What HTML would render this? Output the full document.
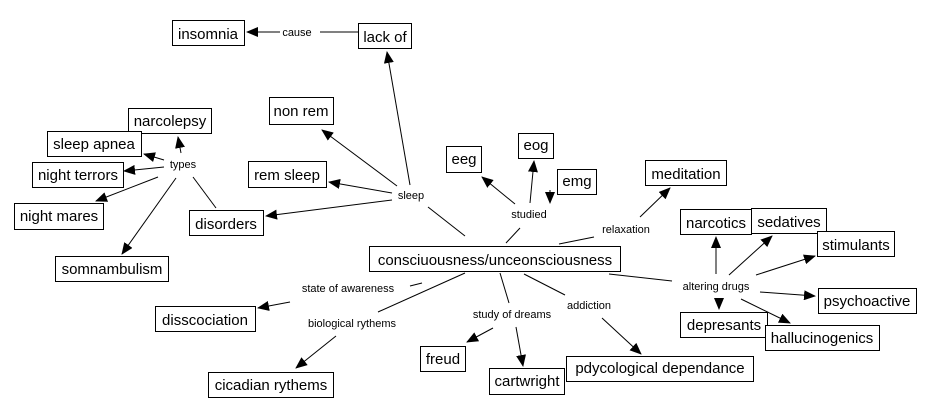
<!DOCTYPE html>
<html><head><meta charset="utf-8"><style>
html,body{margin:0;padding:0;background:#fff;}
svg{display:block;}
.b{fill:#fff;stroke:#000;stroke-width:1;}
.t{font-family:"Liberation Sans",sans-serif;font-size:15px;fill:#000;text-anchor:middle;}
.l{font-family:"Liberation Sans",sans-serif;font-size:11px;fill:#000;text-anchor:middle;}
line{stroke:#000;stroke-width:1;}
</style></head><body>
<svg width="930" height="417" viewBox="0 0 930 417" xmlns="http://www.w3.org/2000/svg">
<defs><marker id="a" markerWidth="12" markerHeight="10" refX="11" refY="5" orient="auto" markerUnits="userSpaceOnUse"><path d="M0,0 L12,5 L0,10 z" fill="#000"/></marker></defs>
<g>
<line x1="320" y1="32" x2="358" y2="32"/>
<line x1="280" y1="32" x2="247" y2="32" marker-end="url(#a)"/>
<line x1="410" y1="185" x2="387" y2="52" marker-end="url(#a)"/>
<line x1="397" y1="186" x2="322" y2="130" marker-end="url(#a)"/>
<line x1="392" y1="193" x2="329" y2="182" marker-end="url(#a)"/>
<line x1="392" y1="200" x2="266" y2="216" marker-end="url(#a)"/>
<line x1="465" y1="236" x2="428" y2="207"/>
<line x1="216" y1="208" x2="193" y2="177"/>
<line x1="181" y1="153" x2="178" y2="137" marker-end="url(#a)"/>
<line x1="164" y1="160" x2="144" y2="154" marker-end="url(#a)"/>
<line x1="164" y1="167" x2="124" y2="171" marker-end="url(#a)"/>
<line x1="158" y1="177" x2="96" y2="201" marker-end="url(#a)"/>
<line x1="176" y1="178" x2="122" y2="254" marker-end="url(#a)"/>
<line x1="506" y1="243" x2="520" y2="228"/>
<line x1="515" y1="204" x2="482" y2="177" marker-end="url(#a)"/>
<line x1="530" y1="203" x2="534" y2="161" marker-end="url(#a)"/>
<line x1="550" y1="190" x2="550" y2="203" marker-end="url(#a)" stroke="none"/>
<line x1="559" y1="244" x2="594" y2="237"/>
<line x1="640" y1="217" x2="670" y2="188" marker-end="url(#a)"/>
<line x1="609" y1="274" x2="672" y2="281"/>
<line x1="716" y1="274" x2="716" y2="237" marker-end="url(#a)"/>
<line x1="729" y1="275" x2="772" y2="236" marker-end="url(#a)"/>
<line x1="756" y1="275" x2="815" y2="256" marker-end="url(#a)"/>
<line x1="760" y1="292" x2="815" y2="296" marker-end="url(#a)"/>
<line x1="719" y1="298" x2="719" y2="309" marker-end="url(#a)" stroke="none"/>
<line x1="741" y1="299" x2="790" y2="323" marker-end="url(#a)"/>
<line x1="524" y1="274" x2="565" y2="295"/>
<line x1="602" y1="318" x2="641" y2="354" marker-end="url(#a)"/>
<line x1="500" y1="273" x2="509" y2="303"/>
<line x1="493" y1="328" x2="467" y2="342" marker-end="url(#a)"/>
<line x1="516" y1="327" x2="523" y2="366" marker-end="url(#a)"/>
<line x1="410" y1="286" x2="422" y2="283"/>
<line x1="290" y1="302" x2="258" y2="308" marker-end="url(#a)"/>
<line x1="465" y1="273" x2="378" y2="312"/>
<line x1="336" y1="336" x2="296" y2="368" marker-end="url(#a)"/>
</g>
<g>
<rect class="b" x="172.5" y="20.5" width="72" height="25"/><text class="t" x="208" y="39">insomnia</text>
<rect class="b" x="358.5" y="23.5" width="53" height="25"/><text class="t" x="385" y="42">lack of</text>
<rect class="b" x="128.5" y="108.5" width="83" height="25"/><text class="t" x="170" y="126">narcolepsy</text>
<rect class="b" x="47.5" y="131.5" width="94" height="25"/><text class="t" x="94" y="149">sleep apnea</text>
<rect class="b" x="32.5" y="162.5" width="91" height="25"/><text class="t" x="78" y="180">night terrors</text>
<rect class="b" x="14.5" y="203.5" width="89" height="26"/><text class="t" x="59" y="221">night mares</text>
<rect class="b" x="55.5" y="256.5" width="113" height="25"/><text class="t" x="112" y="274">somnambulism</text>
<rect class="b" x="269.5" y="97.5" width="64" height="27"/><text class="t" x="301" y="116">non rem</text>
<rect class="b" x="248.5" y="161.5" width="78" height="26"/><text class="t" x="287" y="180">rem sleep</text>
<rect class="b" x="189.5" y="210.5" width="74" height="25"/><text class="t" x="226" y="229">disorders</text>
<rect class="b" x="446.5" y="146.5" width="35" height="26"/><text class="t" x="464" y="164">eeg</text>
<rect class="b" x="518.5" y="133.5" width="35" height="25"/><text class="t" x="536" y="150">eog</text>
<rect class="b" x="557.5" y="169.5" width="39" height="25"/><text class="t" x="577" y="186">emg</text>
<rect class="b" x="645.5" y="160.5" width="81" height="25"/><text class="t" x="686" y="179">meditation</text>
<rect class="b" x="369.5" y="246.5" width="251" height="25"/><text class="t" x="495" y="265">consciuousness/unceonsciousness</text>
<rect class="b" x="680.5" y="209.5" width="71" height="25"/><text class="t" x="716" y="228">narcotics</text>
<rect class="b" x="751.5" y="208.5" width="75" height="25"/><text class="t" x="789" y="227">sedatives</text>
<rect class="b" x="817.5" y="231.5" width="77" height="25"/><text class="t" x="856" y="250">stimulants</text>
<rect class="b" x="818.5" y="288.5" width="98" height="25"/><text class="t" x="867" y="306">psychoactive</text>
<rect class="b" x="680.5" y="312.5" width="87" height="25"/><text class="t" x="724" y="330">depresants</text>
<rect class="b" x="765.5" y="325.5" width="114" height="25"/><text class="t" x="822" y="343">hallucinogenics</text>
<rect class="b" x="155.5" y="306.5" width="100" height="25"/><text class="t" x="205" y="325">disscociation</text>
<rect class="b" x="208.5" y="372.5" width="125" height="25"/><text class="t" x="271" y="390">cicadian rythems</text>
<rect class="b" x="420.5" y="346.5" width="45" height="25"/><text class="t" x="443" y="364">freud</text>
<rect class="b" x="489.5" y="368.5" width="75" height="26"/><text class="t" x="527" y="386">cartwright</text>
<rect class="b" x="566.5" y="356.5" width="187" height="25"/><text class="t" x="660" y="373">pdycological dependance</text>
</g>
<g>
<text class="l" x="297" y="36">cause</text>
<text class="l" x="183" y="168">types</text>
<text class="l" x="411" y="199">sleep</text>
<text class="l" x="529" y="218">studied</text>
<text class="l" x="626" y="233">relaxation</text>
<text class="l" x="716" y="290">altering drugs</text>
<text class="l" x="348" y="292">state of awareness</text>
<text class="l" x="352" y="327">biological rythems</text>
<text class="l" x="512" y="318">study of dreams</text>
<text class="l" x="589" y="309">addiction</text>
</g>
</svg>
</body></html>
